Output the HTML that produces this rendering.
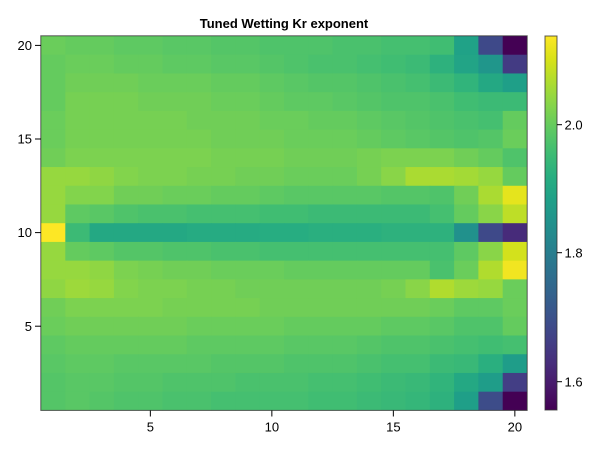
<!DOCTYPE html>
<html>
<head>
<meta charset="utf-8">
<style>
  html, body { margin:0; padding:0; background:#fff; }
  body { width:600px; height:450px; overflow:hidden; }
  svg text { font-family: "Liberation Sans", "DejaVu Sans", sans-serif; fill:#000; }
</style>
</head>
<body>
<svg id="chart" width="600" height="450" viewBox="0 0 600 450" xmlns="http://www.w3.org/2000/svg">
  <defs>
    <linearGradient id="cbar" x1="0" y1="1" x2="0" y2="0">
      <stop offset="0" stop-color="#440154"/>
      <stop offset="0.0625" stop-color="#48186a"/>
      <stop offset="0.125" stop-color="#472d7b"/>
      <stop offset="0.1875" stop-color="#424086"/>
      <stop offset="0.25" stop-color="#3b528b"/>
      <stop offset="0.3125" stop-color="#33638d"/>
      <stop offset="0.375" stop-color="#2c728e"/>
      <stop offset="0.4375" stop-color="#26828e"/>
      <stop offset="0.5" stop-color="#21918c"/>
      <stop offset="0.5625" stop-color="#1fa088"/>
      <stop offset="0.625" stop-color="#28ae80"/>
      <stop offset="0.6875" stop-color="#3fbc73"/>
      <stop offset="0.75" stop-color="#5ec962"/>
      <stop offset="0.8125" stop-color="#84d44b"/>
      <stop offset="0.875" stop-color="#addc30"/>
      <stop offset="0.9375" stop-color="#d8e219"/>
      <stop offset="1" stop-color="#fde725"/>
    </linearGradient>
  </defs>
  <g id="cells"></g>
  <!-- frame -->
  <rect x="40.8" y="35.8" width="486.4" height="374.6" fill="none" stroke="#333" stroke-opacity="0.8" stroke-width="1"/>
  <!-- title -->
  <text x="284" y="28" font-size="13" font-weight="bold" text-anchor="middle">Tuned Wetting Kr exponent</text>
  <!-- y ticks -->
  <g stroke="#000" stroke-width="1">
    <line x1="35" y1="45.4" x2="41" y2="45.4"/>
    <line x1="35" y1="139" x2="41" y2="139"/>
    <line x1="35" y1="232.6" x2="41" y2="232.6"/>
    <line x1="35" y1="326.2" x2="41" y2="326.2"/>
  </g>
  <g font-size="13" text-anchor="end">
    <text x="32" y="50">20</text>
    <text x="32" y="143.6">15</text>
    <text x="32" y="237.2">10</text>
    <text x="32" y="330.8">5</text>
  </g>
  <!-- x ticks -->
  <g stroke="#000" stroke-width="1">
    <line x1="150.35" y1="410.5" x2="150.35" y2="416.5"/>
    <line x1="271.85" y1="410.5" x2="271.85" y2="416.5"/>
    <line x1="393.35" y1="410.5" x2="393.35" y2="416.5"/>
    <line x1="514.85" y1="410.5" x2="514.85" y2="416.5"/>
  </g>
  <g font-size="13" text-anchor="middle">
    <text x="150.35" y="431.5">5</text>
    <text x="271.85" y="431.5">10</text>
    <text x="393.35" y="431.5">15</text>
    <text x="514.85" y="431.5">20</text>
  </g>
  <!-- colorbar -->
  <rect x="545" y="36" width="12" height="374" fill="url(#cbar)"/>
  <rect x="545" y="36" width="12" height="374" fill="none" stroke="#333" stroke-opacity="0.8" stroke-width="1"/>
  <g stroke="#000" stroke-width="1">
    <line x1="557" y1="124.7" x2="562" y2="124.7"/>
    <line x1="557" y1="252.7" x2="562" y2="252.7"/>
    <line x1="557" y1="381.7" x2="562" y2="381.7"/>
  </g>
  <g font-size="13">
    <text x="564.5" y="129.3">2.0</text>
    <text x="564.5" y="257.3">1.8</text>
    <text x="564.5" y="386.3">1.6</text>
  </g>
</svg>
<script>
(function(){
  var stops = [
    [0,0x44,0x01,0x54],[0.0625,0x48,0x18,0x6a],[0.125,0x47,0x2d,0x7b],[0.1875,0x42,0x40,0x86],
    [0.25,0x3b,0x52,0x8b],[0.3125,0x33,0x63,0x8d],[0.375,0x2c,0x72,0x8e],[0.4375,0x26,0x82,0x8e],
    [0.5,0x21,0x91,0x8c],[0.5625,0x1f,0xa0,0x88],[0.625,0x28,0xae,0x80],[0.6875,0x3f,0xbc,0x73],
    [0.75,0x5e,0xc9,0x62],[0.8125,0x84,0xd4,0x4b],[0.875,0xad,0xdc,0x30],[0.9375,0xd8,0xe2,0x19],
    [1,0xfd,0xe7,0x25]
  ];
  function vir(t){
    t = Math.max(0, Math.min(1, t));
    for (var i=0;i<stops.length-1;i++){
      var a=stops[i], b=stops[i+1];
      if (t<=b[0]){
        var f=(t-a[0])/(b[0]-a[0]);
        return 'rgb('+Math.round(a[1]+(b[1]-a[1])*f)+','+Math.round(a[2]+(b[2]-a[2])*f)+','+Math.round(a[3]+(b[3]-a[3])*f)+')';
      }
    }
    return 'rgb(253,231,37)';
  }
  // rows top (y=20) to bottom (y=1), columns x=1..20
  var T = [
    [0.77,0.76,0.76,0.75,0.75,0.74,0.74,0.73,0.73,0.72, 0.72,0.72,0.71,0.71,0.70,0.70,0.69,0.57,0.22,0.00],
    [0.76,0.77,0.77,0.76,0.76,0.75,0.75,0.74,0.74,0.73, 0.72,0.71,0.71,0.70,0.69,0.68,0.64,0.58,0.52,0.17],
    [0.76,0.78,0.78,0.78,0.77,0.77,0.77,0.76,0.76,0.75, 0.74,0.73,0.73,0.72,0.71,0.70,0.68,0.65,0.60,0.56],
    [0.76,0.79,0.79,0.79,0.78,0.78,0.78,0.77,0.77,0.76, 0.75,0.75,0.74,0.73,0.72,0.72,0.71,0.69,0.68,0.68],
    [0.77,0.79,0.79,0.79,0.79,0.79,0.78,0.78,0.78,0.77, 0.77,0.76,0.76,0.75,0.74,0.73,0.72,0.71,0.70,0.76],
    [0.77,0.79,0.79,0.79,0.79,0.79,0.79,0.78,0.78,0.78, 0.77,0.77,0.77,0.76,0.75,0.74,0.73,0.72,0.73,0.77],
    [0.78,0.80,0.80,0.80,0.80,0.80,0.80,0.79,0.79,0.79, 0.78,0.78,0.78,0.79,0.80,0.80,0.80,0.78,0.76,0.72],
    [0.84,0.84,0.83,0.81,0.80,0.80,0.79,0.79,0.78,0.78, 0.77,0.77,0.77,0.79,0.82,0.87,0.87,0.86,0.84,0.76],
    [0.84,0.81,0.81,0.78,0.78,0.77,0.77,0.76,0.76,0.75, 0.74,0.74,0.74,0.74,0.73,0.73,0.72,0.78,0.87,0.96],
    [0.84,0.75,0.74,0.72,0.71,0.71,0.70,0.70,0.70,0.69, 0.69,0.68,0.68,0.68,0.68,0.68,0.70,0.76,0.82,0.90],
    [1.00,0.68,0.60,0.60,0.60,0.60,0.61,0.61,0.61,0.62, 0.62,0.63,0.63,0.63,0.64,0.64,0.64,0.50,0.22,0.12],
    [0.84,0.76,0.75,0.73,0.73,0.72,0.72,0.71,0.71,0.70, 0.70,0.70,0.70,0.70,0.70,0.70,0.70,0.75,0.82,0.93],
    [0.84,0.84,0.83,0.80,0.79,0.78,0.78,0.77,0.77,0.77, 0.76,0.76,0.76,0.76,0.76,0.76,0.71,0.77,0.88,0.98],
    [0.83,0.85,0.84,0.81,0.80,0.80,0.79,0.79,0.78,0.78, 0.78,0.78,0.78,0.78,0.79,0.82,0.88,0.85,0.84,0.77],
    [0.78,0.80,0.80,0.80,0.80,0.79,0.79,0.79,0.79,0.78, 0.78,0.78,0.78,0.78,0.78,0.78,0.77,0.75,0.75,0.77],
    [0.77,0.78,0.78,0.78,0.78,0.78,0.77,0.77,0.77,0.77, 0.76,0.76,0.76,0.76,0.75,0.75,0.74,0.72,0.72,0.76],
    [0.75,0.76,0.76,0.76,0.76,0.76,0.75,0.75,0.75,0.75, 0.74,0.74,0.74,0.73,0.72,0.72,0.71,0.70,0.69,0.70],
    [0.74,0.75,0.75,0.74,0.74,0.74,0.74,0.73,0.73,0.73, 0.72,0.72,0.72,0.71,0.70,0.70,0.68,0.67,0.63,0.55],
    [0.73,0.74,0.74,0.73,0.73,0.72,0.72,0.72,0.71,0.71, 0.71,0.70,0.70,0.69,0.68,0.67,0.65,0.60,0.55,0.18],
    [0.73,0.74,0.73,0.72,0.72,0.71,0.71,0.70,0.70,0.70, 0.70,0.69,0.69,0.68,0.67,0.66,0.64,0.56,0.23,0.00]
  ];
  var x0=41, y0=36, cw=486/20, ch=374.4/20;
  var g=document.getElementById('cells');
  var ns='http://www.w3.org/2000/svg';
  for (var r=0;r<20;r++){
    for (var c=0;c<20;c++){
      var rect=document.createElementNS(ns,'rect');
      var x=x0+c*cw, y=y0+r*ch;
      rect.setAttribute('x', x.toFixed(2));
      rect.setAttribute('y', y.toFixed(2));
      rect.setAttribute('width', (cw+(c<19?0.6:0)).toFixed(2));
      rect.setAttribute('height', (ch+(r<19?0.6:0)).toFixed(2));
      rect.setAttribute('fill', vir(T[r][c]));
      g.appendChild(rect);
    }
  }
})();
</script>
</body>
</html>
